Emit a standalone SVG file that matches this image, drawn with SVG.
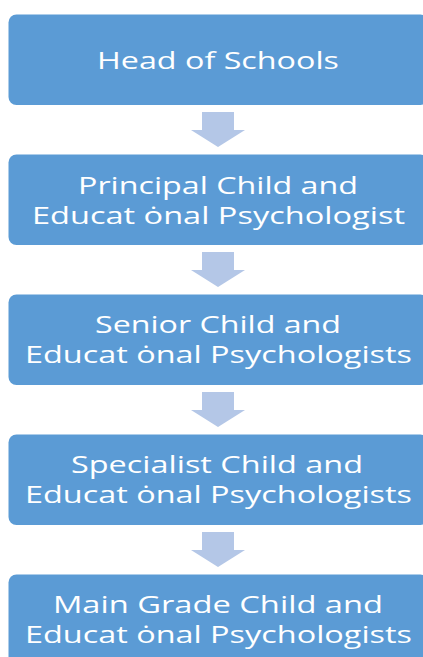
<svg xmlns="http://www.w3.org/2000/svg" width="423" height="657" viewBox="0 0 423 657">
<style>
.box{fill:#5b9bd5;}
.arr{fill:#b4c7e7;}
.t{fill:#ffffff;font-family:"Open Sans","Liberation Sans",sans-serif;font-size:24px;}
</style>
<rect width="423" height="657" fill="#ffffff"/>
<g id="connectors">
<polygon class="arr" points="202,112 234,112 234,130 245,130 218,147 191,130 202,130"/>
<polygon class="arr" points="202,252 234,252 234,270 245,270 218,287 191,270 202,270"/>
<polygon class="arr" points="202,392 234,392 234,410 245,410 218,427 191,410 202,410"/>
<polygon class="arr" points="202,532 234,532 234,550 245,550 218,567 191,550 202,550"/>
</g>
<g id="node1">
<rect class="box" x="8.5" y="14.5" width="420" height="90.5" rx="8"/>
<text class="t" x="97" y="69" textLength="242" lengthAdjust="spacingAndGlyphs">Head of Schools</text>
</g>
<g id="node2">
<rect class="box" x="8.5" y="154.5" width="420" height="90.5" rx="8"/>
<text class="t" x="78" y="194" textLength="280" lengthAdjust="spacingAndGlyphs">Principal Child and</text>
<text class="t" x="32" y="224" textLength="373" lengthAdjust="spacingAndGlyphs">Educat ȯnal Psychologist</text>
</g>
<g id="node3">
<rect class="box" x="8.5" y="294.5" width="420" height="90.5" rx="8"/>
<text class="t" x="95" y="333" textLength="246" lengthAdjust="spacingAndGlyphs">Senior Child and</text>
<text class="t" x="25" y="363" textLength="387" lengthAdjust="spacingAndGlyphs">Educat ȯnal Psychologists</text>
</g>
<g id="node4">
<rect class="box" x="8.5" y="434.5" width="420" height="90.5" rx="8"/>
<text class="t" x="71" y="473" textLength="292" lengthAdjust="spacingAndGlyphs">Specialist Child and</text>
<text class="t" x="25" y="503" textLength="387" lengthAdjust="spacingAndGlyphs">Educat ȯnal Psychologists</text>
</g>
<g id="node5">
<rect class="box" x="8.5" y="574.5" width="420" height="90.5" rx="8"/>
<text class="t" x="53" y="613" textLength="330" lengthAdjust="spacingAndGlyphs">Main Grade Child and</text>
<text class="t" x="25" y="643" textLength="387" lengthAdjust="spacingAndGlyphs">Educat ȯnal Psychologists</text>
</g>
</svg>
